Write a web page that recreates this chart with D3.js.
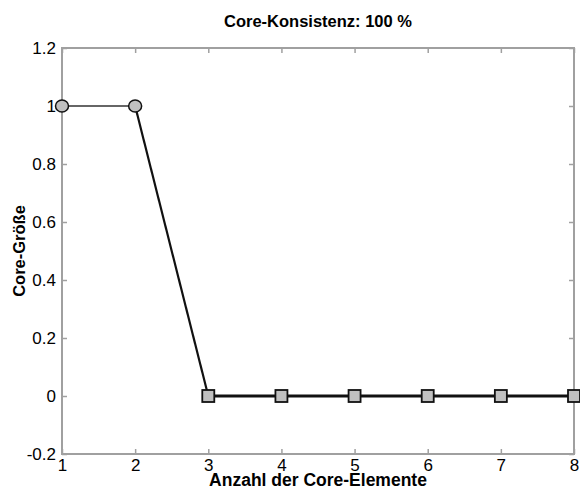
<!DOCTYPE html>
<html><head><meta charset="utf-8">
<script src="https://cdn.jsdelivr.net/npm/d3@7"></script>
<style>body{margin:0;background:#fff}svg{display:block;font-family:Arial,"Liberation Sans",sans-serif}</style>
</head><body><svg id="c" width="580" height="489"></svg>
<script>
const xValues = [1, 2, 3, 4, 5, 6, 7, 8];
const coreSize = [1, 1, 0, 0, 0, 0, 0, 0];
const xTicks = [1, 2, 3, 4, 5, 6, 7, 8];
const yTicks = [-0.2, 0, 0.2, 0.4, 0.6, 0.8, 1, 1.2];
const yTickLabels = ["-0.2", "0", "0.2", "0.4", "0.6", "0.8", "1", "1.2"];
const titleText = "Core-Konsistenz: 100 %";
const xLabel = "Anzahl der Core-Elemente";
const yLabel = "Core-Größe";

const svg = d3.select("#c");
const m = {l: 62, r: 574, t: 48, b: 454};
const x = d3.scaleLinear().domain([1, 8]).range([m.l, m.r]);
const y = d3.scaleLinear().domain([-0.2, 1.2]).range([m.b, m.t]);
const axisCol = "#a0a0a0";

// frame
svg.append("rect").attr("x", m.l).attr("y", m.t).attr("width", m.r - m.l).attr("height", m.b - m.t)
  .attr("fill", "none").attr("stroke", axisCol).attr("stroke-width", 2);

// axes (ticks inside)
const fmt = d => yTickLabels[yTicks.indexOf(d)];
const gB = svg.append("g").attr("transform", `translate(0,${m.b})`)
  .call(d3.axisBottom(x).tickValues(xTicks).tickSizeInner(-5).tickSizeOuter(0).tickPadding(8).tickFormat(d3.format("d")));
const gT = svg.append("g").attr("transform", `translate(0,${m.t})`)
  .call(d3.axisTop(x).tickValues(xTicks).tickSizeInner(-5).tickSizeOuter(0).tickFormat(""));
const gL = svg.append("g").attr("transform", `translate(${m.l},0)`)
  .call(d3.axisLeft(y).tickValues(yTicks).tickSizeInner(-5).tickSizeOuter(0).tickPadding(9).tickFormat(fmt));
const gR = svg.append("g").attr("transform", `translate(${m.r},0)`)
  .call(d3.axisRight(y).tickValues(yTicks).tickSizeInner(-5).tickSizeOuter(0).tickFormat(""));
[gB, gT, gL, gR].forEach(g => {
  g.select(".domain").remove();
  g.selectAll(".tick line").attr("stroke", axisCol).attr("stroke-width", 1.5);
  g.selectAll(".tick text").attr("fill", "#000").attr("font-size", 17).attr("font-family", "Arial, 'Liberation Sans', sans-serif");
});
gB.selectAll(".tick text").attr("dy", "0.55em");
gL.selectAll(".tick text").attr("dx", "3");

// line segments
const pts = xValues.map((v, i) => ({x: v, y: coreSize[i]}));
svg.append("g").selectAll("line").data(d3.pairs(pts)).join("line")
  .attr("x1", d => x(d[0].x)).attr("y1", d => y(d[0].y))
  .attr("x2", d => x(d[1].x)).attr("y2", d => y(d[1].y))
  .attr("stroke", d => d[0].y === d[1].y && d[0].y === 1 ? "#333" : "#111")
  .attr("stroke-width", d => d[0].y === d[1].y && d[0].y === 1 ? 1.5 : (d[0].y !== d[1].y ? 2.2 : 2.8));

// markers
const mk = svg.append("g");
mk.selectAll("ellipse").data(pts.filter(p => p.y === 1)).join("ellipse")
  .attr("cx", d => x(d.x)).attr("cy", d => y(d.y)).attr("rx", 6.5).attr("ry", 6)
  .attr("fill", "#c0c0c0").attr("stroke", "#111").attr("stroke-width", 1.5);
mk.selectAll("rect").data(pts.filter(p => p.y === 0)).join("rect")
  .attr("x", d => x(d.x) - 6).attr("y", d => y(d.y) - 6).attr("width", 12).attr("height", 12)
  .attr("fill", "#c0c0c0").attr("stroke", "#111").attr("stroke-width", 1.8);

// texts
svg.append("text").attr("x", (m.l + m.r) / 2).attr("y", 27).attr("text-anchor", "middle")
  .attr("font-size", 16.5).attr("font-weight", "bold").text(titleText);
svg.append("text").attr("x", (m.l + m.r) / 2).attr("y", 486).attr("text-anchor", "middle")
  .attr("font-size", 17.5).attr("font-weight", "bold").text(xLabel);
svg.append("text").attr("transform", `translate(25,${(m.t + m.b) / 2}) rotate(-90)`).attr("text-anchor", "middle")
  .attr("font-size", 16.5).attr("font-weight", "bold").text(yLabel);
</script></body></html>
